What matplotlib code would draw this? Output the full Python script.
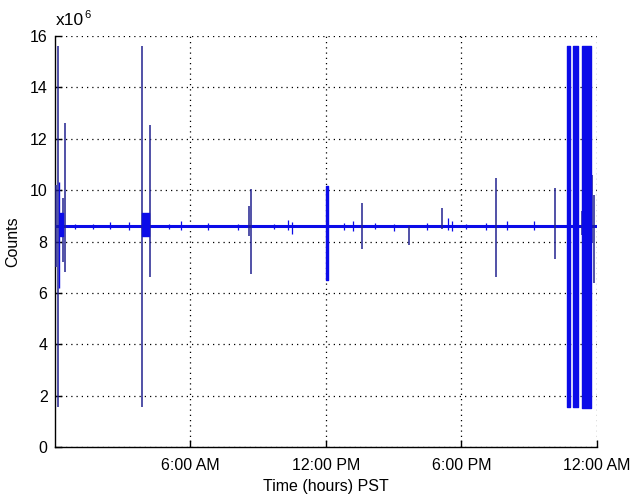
import matplotlib
import matplotlib.pyplot as plt

matplotlib.use("Agg")

plt.rcParams["font.family"] = ["Liberation Sans", "DejaVu Sans"]

# counts in units of 1e6, time in hours since midnight PST
BASELINE = 8.6
T_START, T_END = 0.0, 24.0

# isolated single-sample spikes: time, high, low
SPIKE_T = [0.07, 0.17, 0.39, 0.45, 3.89, 4.23, 8.59, 8.70, 13.62,
           15.68, 17.16, 19.51, 22.12, 23.32, 23.76, 23.86]
SPIKE_HI = [10.2, 15.6, 9.7, 12.6, 15.6, 12.55, 9.4, 10.06, 9.5,
            8.6, 9.3, 10.47, 10.08, 9.2, 10.6, 9.8]
SPIKE_LO = [7.0, 1.55, 7.2, 6.8, 1.55, 6.6, 8.2, 6.72, 7.7,
            7.85, 8.5, 6.6, 7.3, 8.27, 7.96, 6.4]

# small glitches riding on the baseline
GLITCH_T = [0.9, 1.7, 2.45, 3.3, 5.05, 5.6, 6.8, 8.1, 9.7, 10.35,
            10.5, 12.8, 13.2, 14.2, 15.0, 16.5, 17.4, 17.6, 18.2,
            19.1, 20.0, 21.2]
GLITCH_HI = [8.7, 8.7, 8.75, 8.75, 8.7, 8.79, 8.72, 8.7, 8.7, 8.85,
             8.75, 8.72, 8.8, 8.72, 8.7, 8.72, 8.9, 8.8, 8.7, 8.72,
             8.8, 8.8]
GLITCH_LO = [8.5, 8.5, 8.5, 8.45, 8.5, 8.45, 8.45, 8.45, 8.5, 8.45,
             8.3, 8.45, 8.4, 8.5, 8.4, 8.45, 8.45, 8.4, 8.5, 8.45,
             8.45, 8.45]

# short noisy bursts that render as solid bars: start, end, high, low
BURST_T0 = [0.19, 0.24, 3.86, 12.03, 22.68, 22.96, 23.34]
BURST_T1 = [0.22, 0.38, 4.20, 12.08, 22.79, 23.14, 23.74]
BURST_HI = [10.3, 9.1, 9.1, 10.17, 15.6, 15.6, 15.6]
BURST_LO = [6.2, 8.2, 8.2, 6.5, 1.55, 1.55, 1.5]

X_TICKS = [6, 12, 18, 24]
X_TICK_LABELS = ["6:00 AM", "12:00 PM", "6:00 PM", "12:00 AM"]
Y_TICKS = list(range(0, 17, 2))

LINE_BLUE = "#0b0be8"
SPIKE_NAVY = "#22228f"
FONT_SIZE = 11.5


def main() -> None:
    fig = plt.figure(figsize=(6.31, 4.97), dpi=100)
    ax = fig.add_axes([54.5 / 631, 1 - 447 / 497, (597 - 54.5) / 631, (447 - 36) / 497])

    ax.plot([T_START, T_END], [BASELINE, BASELINE], color=LINE_BLUE, lw=2.2,
            solid_capstyle="butt", zorder=3)
    ax.vlines(GLITCH_T, GLITCH_LO, GLITCH_HI, color=LINE_BLUE, lw=0.9, zorder=3)
    ax.vlines(SPIKE_T, SPIKE_LO, SPIKE_HI, color=SPIKE_NAVY, lw=1.1, zorder=3)
    for t0, t1, hi, lo in zip(BURST_T0, BURST_T1, BURST_HI, BURST_LO):
        ax.fill_between([t0, t1], [lo, lo], [hi, hi], color=LINE_BLUE,
                        lw=1.0, edgecolor=LINE_BLUE, zorder=3)

    ax.set_xlim(T_START, T_END)
    ax.set_ylim(0, 16)
    ax.set_xticks(X_TICKS)
    ax.set_xticklabels(X_TICK_LABELS)
    ax.set_yticks(Y_TICKS)
    ax.tick_params(direction="in", length=5, width=1, labelsize=FONT_SIZE, colors="black")
    ax.tick_params(axis="x", pad=8)
    ax.tick_params(axis="y", pad=5)

    ax.grid(True, color="black", linestyle=(0, (1, 3.2)), linewidth=0.9)
    for side in ("top", "right"):
        ax.spines[side].set_visible(False)
    for side in ("left", "bottom"):
        ax.spines[side].set_linewidth(1.0)

    ax.set_xlabel("Time (hours) PST", fontsize=FONT_SIZE, labelpad=4)
    ax.set_ylabel("Counts", fontsize=FONT_SIZE, labelpad=7)

    fig.text(56 / 631, 1 - 25 / 497, "x10", fontsize=12.5, va="baseline")
    fig.text(84 / 631, 1 - 18 / 497, "6", fontsize=8, va="baseline")

    fig.savefig("out.png", dpi=100)
    plt.close(fig)


if __name__ == "__main__":
    main()
